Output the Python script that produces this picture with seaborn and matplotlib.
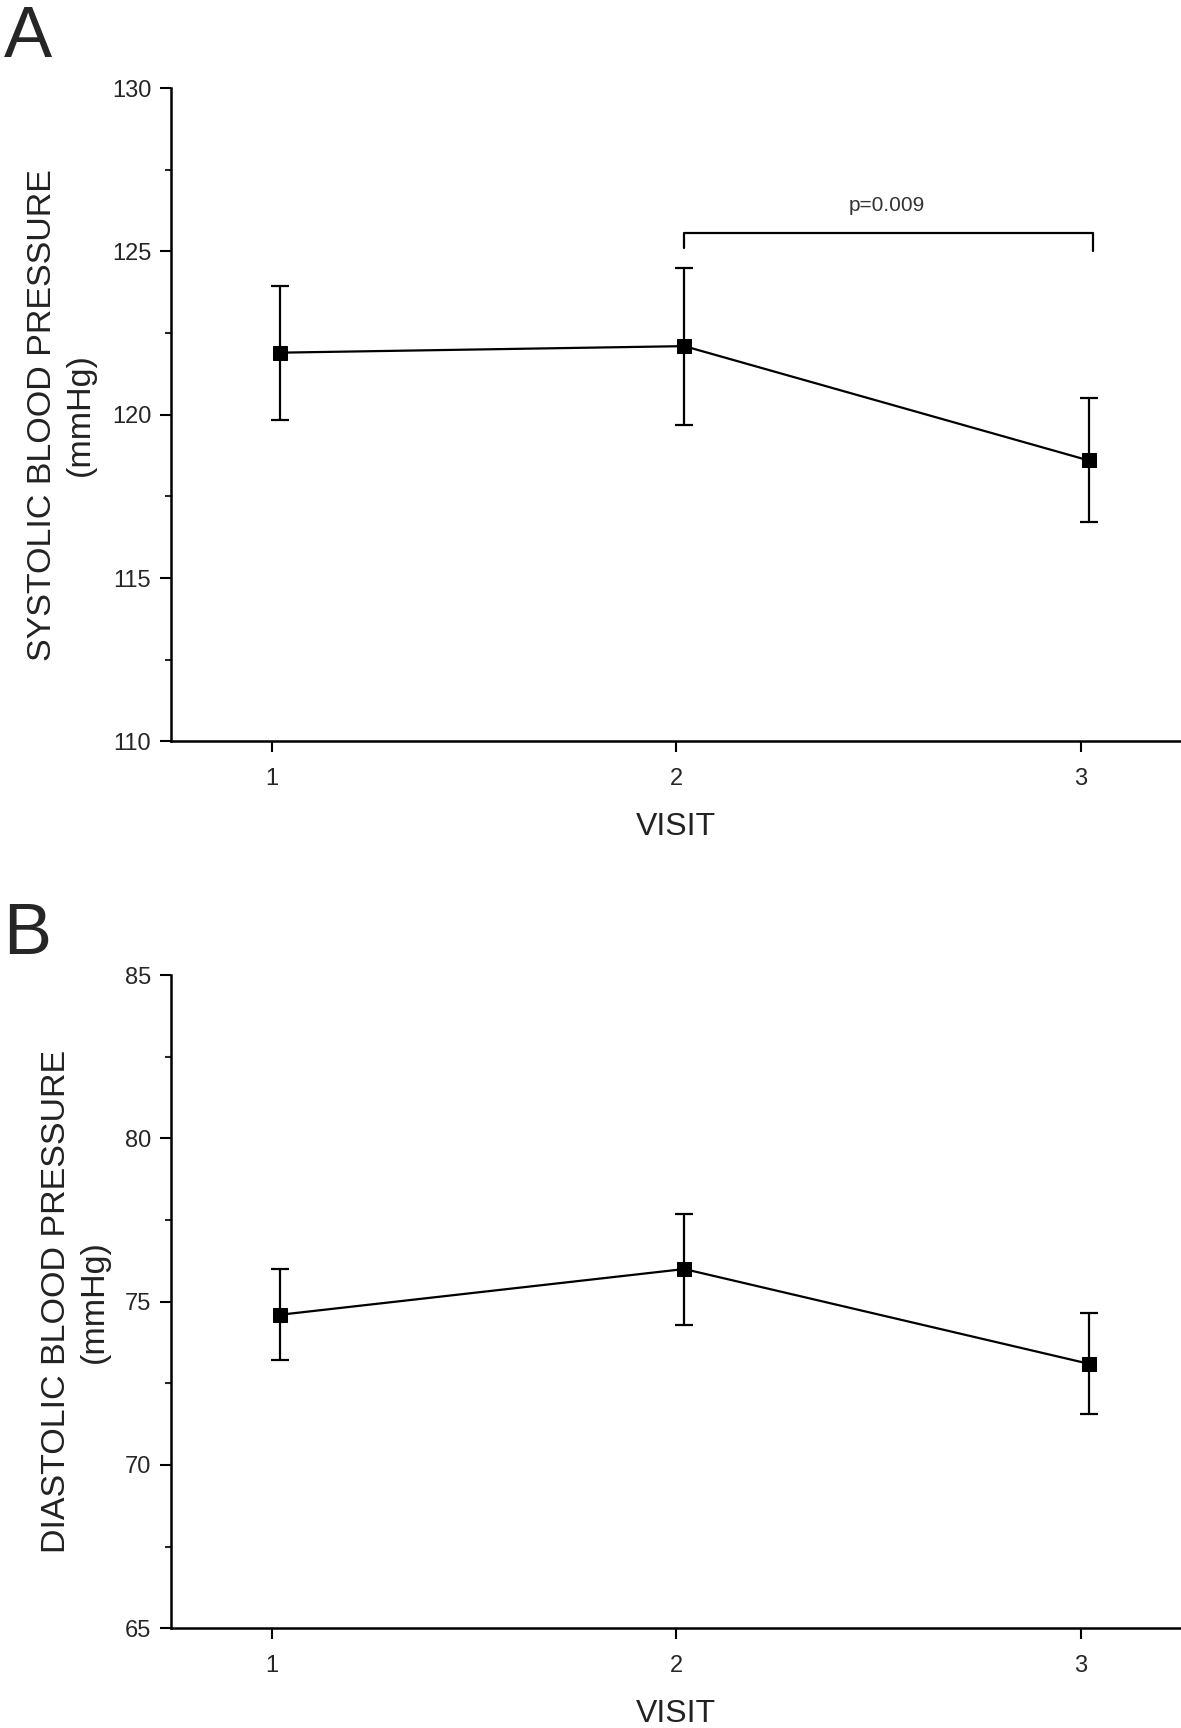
import numpy as np
import pandas as pd
import matplotlib
matplotlib.use('Agg')
import matplotlib.pyplot as plt
from matplotlib.ticker import MultipleLocator
import seaborn as sns

visits = [1, 2, 3]
systolic_mean = [121.9, 122.1, 118.6]
systolic_err = [2.05, 2.4, 1.9]
diastolic_mean = [74.6, 76.0, 73.1]
diastolic_err = [1.4, 1.7, 1.55]
p_label = 'p=0.009'

sns.set_style('white')
plt.rcParams['font.family'] = ['Liberation Sans', 'DejaVu Sans']

df_sys = pd.DataFrame({'VISIT': visits, 'BP': systolic_mean, 'ERR': systolic_err})
df_dia = pd.DataFrame({'VISIT': visits, 'BP': diastolic_mean, 'ERR': diastolic_err})

fig = plt.figure(figsize=(11.81, 17.28), dpi=100)
ax1 = fig.add_axes([0.1446, 0.571, 0.856, 0.378])
ax2 = fig.add_axes([0.1446, 0.0577, 0.856, 0.378])

x_shift = 0.02


def draw_panel(ax, df, ylim, ylabel, label_x):
    x = df['VISIT'] + x_shift
    ax.errorbar(x, df['BP'], yerr=df['ERR'], fmt='none', ecolor='black',
                elinewidth=1.6, capsize=6.5, capthick=1.6, zorder=2)
    sns.lineplot(x=x, y=df['BP'], ax=ax, color='black', linewidth=1.6,
                 marker='s', markersize=9.5, markeredgecolor='black', zorder=3)
    ax.set_xlim(0.75, 3.25)
    ax.set_ylim(*ylim)
    ax.set_xticks(visits)
    ax.yaxis.set_major_locator(MultipleLocator(5))
    ax.yaxis.set_minor_locator(MultipleLocator(2.5))
    ax.tick_params(axis='both', which='major', direction='out', length=8,
                   width=1.5, labelsize=17, color='black', left=True, bottom=True)
    ax.tick_params(axis='y', which='minor', direction='out', length=4,
                   width=1.5, left=True)
    ax.tick_params(axis='x', pad=11)
    ax.tick_params(axis='y', pad=6)
    for s in ['top', 'right']:
        ax.spines[s].set_visible(False)
    for s in ['left', 'bottom']:
        ax.spines[s].set_linewidth(1.8)
        ax.spines[s].set_color('black')
    ax.set_xlabel('VISIT', fontsize=23, labelpad=16, color='#222222')
    ax.set_ylabel(ylabel, fontsize=24.5, linespacing=1.3, color='#222222')
    ax.yaxis.set_label_coords(label_x, 0.5)
    ax.grid(False)


draw_panel(ax1, df_sys, (110, 130), 'SYSTOLIC BLOOD PRESSURE\n(mmHg)', -0.074)
draw_panel(ax2, df_dia, (65, 85), 'DIASTOLIC BLOOD PRESSURE\n(mmHg)', -0.06)

# significance bracket between visit 2 and visit 3
ax1.plot([2 + x_shift, 2 + x_shift, 3.03, 3.03], [125.1, 125.55, 125.55, 125.0],
         color='black', linewidth=1.6)
ax1.text(2.5 + x_shift, 126.1, p_label, ha='center', va='bottom', fontsize=15,
         color='#333333')

fig.text(0.003, 0.997, 'A', fontsize=52, ha='left', va='top')
fig.text(0.003, 0.478, 'B', fontsize=52, ha='left', va='top')

fig.savefig('out.png', dpi=100, facecolor='white')
